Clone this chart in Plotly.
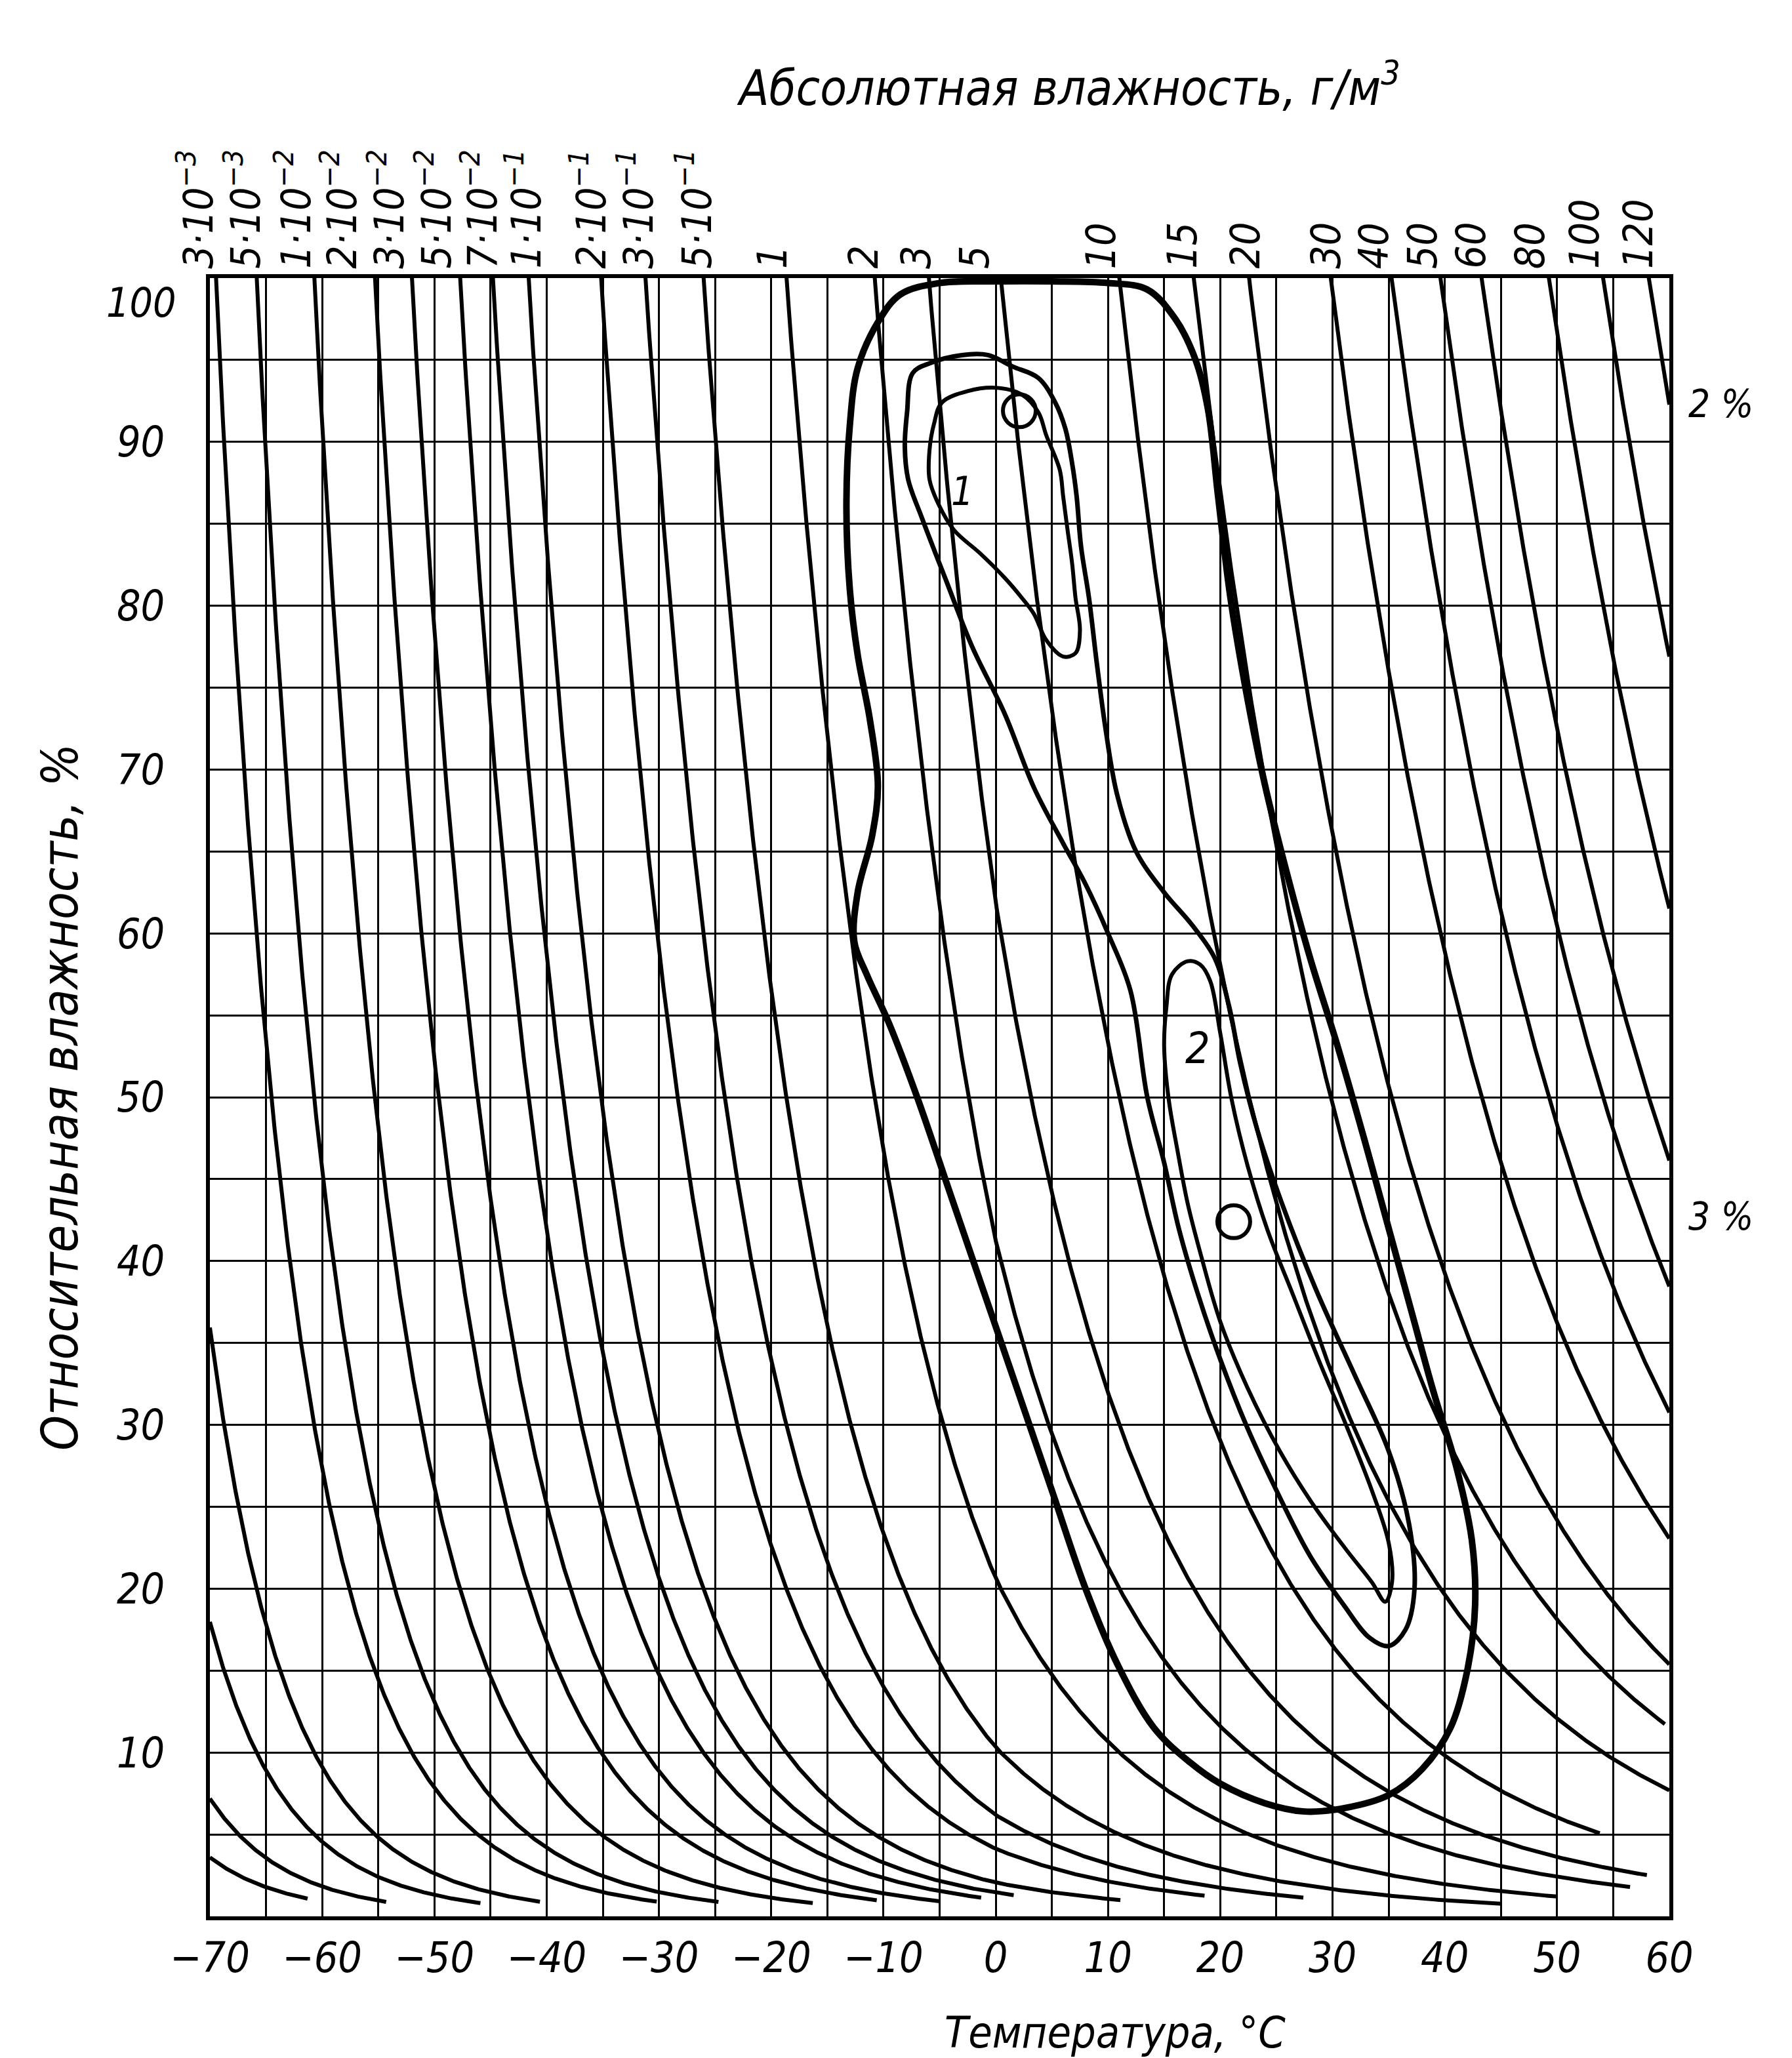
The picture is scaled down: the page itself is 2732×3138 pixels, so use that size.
import numpy as np
import plotly.graph_objects as go

# ---------------- data ----------------
# absolute-humidity isolines (g/m^3) and the temperature where each drawn line stops
ABS_HUMIDITY = [1e-4, 2e-4, 5e-4, 1e-3, 3e-3, 5e-3, 1e-2, 2e-2, 3e-2, 5e-2, 7e-2,
                0.1, 0.2, 0.3, 0.5, 1, 2, 3, 5, 10, 15, 20, 30, 40, 50, 60, 80, 100, 120]
ISOLINE_END_T = [-61.3, -54.3, -45.9, -40.6, -30.2, -24.7, -16.3, -10.6, -5.0, -1.3, 1.6,
                 11.1, 18.6, 27.4, 45.0, 50.0, 56.5, 58.0, 53.8, 60, 59.6, 60, 60, 60, 60, 60, 60, 60, 60]

# labels of the upper (absolute humidity) scale and their horizontal positions (deg C)
TOP_LABELS = ["3·10<sup>−3</sup>", "5·10<sup>−3</sup>", "1·10<sup>−2</sup>", "2·10<sup>−2</sup>",
              "3·10<sup>−2</sup>", "5·10<sup>−2</sup>", "7·10<sup>−2</sup>", "1·10<sup>−1</sup>",
              "2·10<sup>−1</sup>", "3·10<sup>−1</sup>", "5·10<sup>−1</sup>", "1", "2", "3", "5",
              "10", "15", "20", "30", "40", "50", "60", "80", "100", "120"]
TOP_LABEL_T = [-71.3, -67.1, -62.6, -58.5, -54.3, -50.1, -46.0, -42.1, -36.3, -32.1, -26.9,
               -19.9, -11.8, -7.1, -1.9, 9.4, 16.6, 22.2, 29.4, 33.7, 38.0, 42.3, 47.6, 52.4, 57.2]

X_MIN, X_MAX = -70, 60
X_TICKS = [-70, -60, -50, -40, -30, -20, -10, 0, 10, 20, 30, 40, 50, 60]
X_TICK_TEXT = ["−70", "−60", "−50", "−40", "−30", "−20", "−10", "0", "10", "20", "30", "40", "50", "60"]
Y_TICKS = [10, 20, 30, 40, 50, 60, 70, 80, 90]

# outer (thick) contour
OUTER_T = [-8.5, -5, 0, 5, 10, 13.5, 16, 17.8, 18.9, 19.8, 20.9, 22.4, 24, 26, 28, 30.5, 32.8, 35, 37,
           39, 41, 42.4, 42.7, 42, 40.5, 38, 35, 31, 27.5, 24, 20, 17.3, 14.1, 10.9, 8, 5, 2, -1, -4,
           -7, -9.5, -11.5, -12.6, -12.3, -11, -10.5, -11.2, -12.3, -13, -13.3, -13, -12.3, -10.5]
OUTER_RH = [99.0, 99.7, 99.8, 99.8, 99.7, 99.3, 97.5, 95, 92, 86.7, 80.5, 74.4, 69, 63.5, 58.5, 53,
            47.5, 42, 37, 32, 27.5, 23, 19, 15, 11.5, 9, 7.4, 6.6, 6.4, 6.9, 8.1, 9.4, 11.5, 15.3,
            20, 26, 32, 38, 44, 50, 54.5, 57.5, 59.5, 62.5, 66, 69, 73, 77, 81, 86, 91, 94.5, 97.3]

# middle elongated contour
MID_T = [-7.4, -5.9, -3, -0.7, 1.5, 3.8, 5.3, 6.2, 6.8, 7.2, 7.6, 8.3, 9, 9.8, 10.8, 12.5, 15, 17.5,
         19.5, 20.8, 21.8, 23.3, 25.5, 28.5, 32, 35, 36.8, 37.3, 36.5, 35, 33.3, 31, 28, 25, 22.3,
         20, 18, 16.3, 15, 13.5, 12, 10, 8, 6, 3.4, 0.8, -2.1, -4.4, -6.6, -7.8, -8.1, -7.9]
MID_RH = [94.2, 94.8, 95.3, 95.3, 94.6, 93.9, 92.4, 90.8, 88.7, 86.7, 83.6, 80.5, 76.5, 72.4, 68.5,
          65, 62.5, 60.5, 58.5, 55.5, 52, 48, 43.5, 38.3, 33, 28.4, 24, 20, 17.5, 16.5, 17, 19, 22,
          26, 30, 34, 38, 42, 46, 50, 56.5, 60, 63, 65.5, 68.9, 73.4, 77.5, 81.5, 85.4, 87.7, 89.7, 91.8]

# inner contour "1"
IN1_T = [0.1, 2.3, 3.8, 4.5, 5.7, 6.0, 6.4, 6.8, 7.1, 7.5, 7.1, 6.0, 4.5, 3.4, 2.3, 0.8, -1.4, -3.7,
         -5.1, -5.9, -5.9, -5.5, -4.8, -2.5]
IN1_RH = [93.3, 92.9, 91.8, 90.4, 88.3, 86.7, 84.6, 82.6, 80.5, 78.5, 77.1, 76.9, 77.9, 79.5, 80.5,
          81.7, 83.2, 84.6, 86.2, 87.7, 89.5, 91.1, 92.4, 93.1]

# inner contour "2"
IN2_T = [17.1, 18.2, 19.1, 20.0, 21.0, 22.4, 24.2, 26.5, 28.8, 31.2, 33.5, 35.0, 35.3, 34.7, 33.5,
         31.2, 28.2, 25.3, 22.4, 20.0, 18.3, 17.1, 16.2, 15.4, 15.0, 15.2, 15.7]
IN2_RH = [58.3, 58.1, 57.1, 53.9, 49.9, 45.9, 41.9, 37.9, 33.9, 30.0, 26.0, 22.8, 20.4, 19.2, 20.4,
          22.4, 25.2, 28.4, 32.3, 36.3, 40.3, 43.5, 46.7, 49.9, 53.1, 55.5, 57.5]

# centres of the two small circles
CIRCLE_T = [2.1, 21.2]
CIRCLE_RH = [91.9, 42.4]

FONT = "DejaVu Sans Condensed, Liberation Sans Narrow, DejaVu Sans, sans-serif"


def saturation_density(t):
    """saturated water-vapour density, g/m^3 (over ice below 0 C, over water above)"""
    t = np.asarray(t, dtype=float)
    e = np.where(t < 0,
                 6.112 * np.exp(22.46 * t / (272.62 + t)),
                 6.112 * np.exp(17.62 * t / (243.12 + t)))
    return 216.7 * e / (t + 273.15)


def to_paper_x(t):
    return (t - X_MIN) / (X_MAX - X_MIN)


fig = go.Figure()

# isolines of absolute humidity
xs, ys = [], []
for ah, t_end in zip(ABS_HUMIDITY, ISOLINE_END_T):
    t = np.arange(-70.0, t_end + 1e-9, 0.05)
    rh = 100.0 * ah / saturation_density(t)
    keep = rh <= 110
    xs += list(t[keep]) + [None]
    ys += list(rh[keep]) + [None]
fig.add_trace(go.Scatter(x=xs, y=ys, mode="lines", line=dict(color="black", width=6),
                         hoverinfo="skip", showlegend=False))


def closed(a):
    return list(a) + [a[0]]


for tt, rr, w in [(OUTER_T, OUTER_RH, 10), (MID_T, MID_RH, 7), (IN1_T, IN1_RH, 6), (IN2_T, IN2_RH, 6)]:
    fig.add_trace(go.Scatter(x=closed(tt), y=closed(rr), mode="lines",
                             line=dict(color="black", width=w, shape="spline", smoothing=1.0),
                             hoverinfo="skip", showlegend=False))

fig.add_trace(go.Scatter(x=CIRCLE_T, y=CIRCLE_RH, mode="markers",
                         marker=dict(symbol="circle-open", size=50, color="black",
                                     line=dict(color="black", width=6)),
                         hoverinfo="skip", showlegend=False))

ann = []
for txt, xt in zip(TOP_LABELS, TOP_LABEL_T):
    ann.append(dict(x=to_paper_x(xt), y=1.0, xref="paper", yref="paper", text=txt, showarrow=False,
                    textangle=-90, xanchor="center", yanchor="bottom", yshift=12,
                    font=dict(family=FONT, size=62, color="black", style="italic")))

ann += [
    dict(x=to_paper_x(6.5), y=1.118, xref="paper", yref="paper",
         text="Абсолютная влажность, г/м<sup>3</sup>",
         showarrow=False, xanchor="center", yanchor="middle",
         font=dict(family=FONT, size=74, color="black", style="italic")),
    dict(x=-0.103, y=0.5, xref="paper", yref="paper", text="Относительная влажность, %",
         showarrow=False, textangle=-90, xanchor="center", yanchor="middle",
         font=dict(family=FONT, size=76, color="black", style="italic")),
    dict(x=to_paper_x(10.6), y=-0.071, xref="paper", yref="paper", text="Температура, °С",
         showarrow=False, xanchor="center", yanchor="middle",
         font=dict(family=FONT, size=66, color="black", style="italic")),
    dict(x=0, y=98.5, xref="paper", yref="y", text="100", showarrow=False,
         xanchor="right", yanchor="middle", xshift=-50,
         font=dict(family=FONT, size=62, color="black", style="italic")),
    dict(x=to_paper_x(64.6), y=92.3, xref="paper", yref="y", text="2 %", showarrow=False,
         xanchor="center", yanchor="middle",
         font=dict(family=FONT, size=58, color="black", style="italic")),
    dict(x=to_paper_x(64.6), y=42.7, xref="paper", yref="y", text="3 %", showarrow=False,
         xanchor="center", yanchor="middle",
         font=dict(family=FONT, size=58, color="black", style="italic")),
    dict(x=-3.0, y=87.0, xref="x", yref="y", text="1", showarrow=False,
         xanchor="center", yanchor="middle",
         font=dict(family=FONT, size=60, color="black", style="italic")),
    dict(x=18.0, y=53.0, xref="x", yref="y", text="2", showarrow=False,
         xanchor="center", yanchor="middle",
         font=dict(family=FONT, size=66, color="black", style="italic")),
]

fig.update_layout(
    width=2732, height=3138,
    margin=dict(l=320, r=187, t=424, b=216),
    paper_bgcolor="white", plot_bgcolor="white",
    annotations=ann,
    xaxis=dict(range=[X_MIN, X_MAX], tickvals=X_TICKS, ticktext=X_TICK_TEXT, ticks="",
               ticklabelstandoff=2,
               tickfont=dict(family=FONT, size=64, color="black", style="italic"),
               showgrid=True, gridcolor="black", gridwidth=3, zeroline=False,
               minor=dict(dtick=5, showgrid=True, gridcolor="black", gridwidth=3),
               showline=True, linecolor="black", linewidth=6, mirror=True),
    yaxis=dict(range=[0, 100], tickvals=Y_TICKS, ticks="", ticklabelstandoff=50,
               tickfont=dict(family=FONT, size=64, color="black", style="italic"),
               showgrid=True, gridcolor="black", gridwidth=3, zeroline=False,
               minor=dict(dtick=5, showgrid=True, gridcolor="black", gridwidth=3),
               showline=True, linecolor="black", linewidth=6, mirror=True),
)

fig.write_html("out.html")
